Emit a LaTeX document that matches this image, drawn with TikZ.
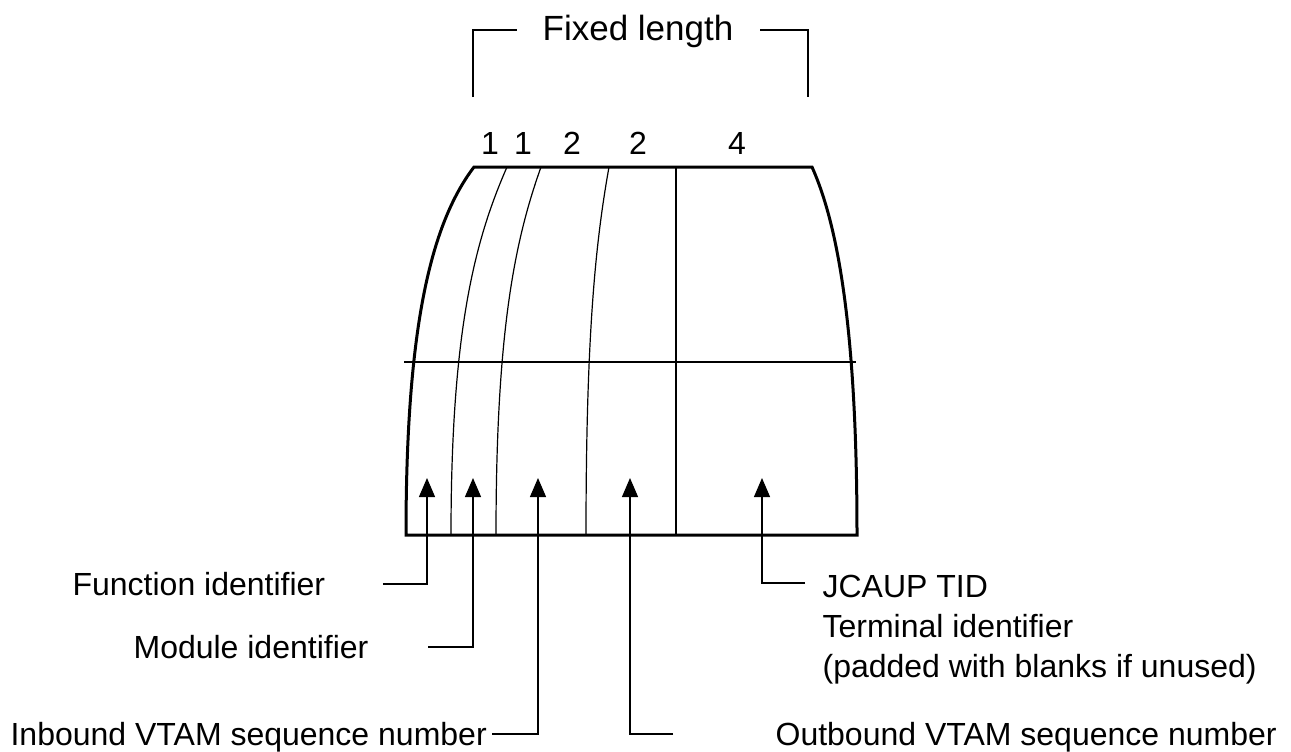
\documentclass[tikz,border=0pt]{standalone}
\usepackage{fontspec}
\setmainfont{Liberation Sans}
\usetikzlibrary{arrows.meta}

\begin{document}
\begin{tikzpicture}[x=.5pt,y=-.5pt,line width=.6pt,font=\fontsize{16}{20}\selectfont,
  outline/.style={line width=1.5pt},
  lbl/.style={inner sep=0pt,text height=11pt,text depth=0pt},
  lead/.style={-{Triangle[width=8pt,length=9.5pt]}}]
\useasboundingbox (0,0) rectangle (1291,751);
% record outline and fields
\draw[outline] (406,535)..controls (406,330) and (430,225)..(474,167)--(812,167)
  ..controls (838,225) and (857,330)..(857,535)--cycle;
\draw (507,167)..controls (475,240) and (451,330)..(451,535);
\draw (541,167)..controls (515,240) and (496,330)..(496,535);
\draw (609,167)..controls (596,240) and (586,330)..(586,535);
\draw (676,167)--(676,535);
\draw (404,362)--(856,362);
% field lengths
\node[anchor=base] (len1) at (490,154) {1};
\node[anchor=base] (len2) at (523,154) {1};
\node[anchor=base] (len3) at (572,154) {2};
\node[anchor=base] (len4) at (638,154) {2};
\node[anchor=base] (len5) at (737,154) {4};
\node[anchor=base,font=\fontsize{17.5}{20}\selectfont] (fixed) at (638,40) {Fixed length};
\draw (473,97)--(473,30)--(517,30);
\draw (760,30)--(808,30)--(808,97);
% arrow tips
\coordinate (fntip) at (427,478);
\coordinate (modtip) at (473,478);
\coordinate (intip) at (538,478);
\coordinate (outtip) at (630,478);
\coordinate (tidtip) at (762,478);
% labels
\node[lbl,anchor=west] (fnid) at (72,584) {Function identifier};
\node[lbl,anchor=west] (modid) at (133,647) {Module identifier};
\node[lbl,anchor=west] (inseq) at (10,734) {Inbound VTAM sequence number};
\node[lbl,anchor=west] (outseq) at (775,734) {Outbound VTAM sequence number};
\node[inner sep=0pt,anchor=north west,align=left] (tid) at (822,575)
  {JCAUP TID\\Terminal identifier\\(padded with blanks if unused)};
\draw[lead,shorten <=28.5pt] (fnid.east) -| (fntip);
\draw[lead,shorten <=29.5pt] (modid.east) -| (modtip);
\draw[lead,shorten <=2.5pt] (inseq.east) -| (intip);
\draw[lead,shorten <=51pt] (outseq.west) -| (outtip);
\draw[lead,shorten <=8.5pt] ([yshift=-4pt]tid.north west) -| (tidtip);
\end{tikzpicture}
\end{document}
